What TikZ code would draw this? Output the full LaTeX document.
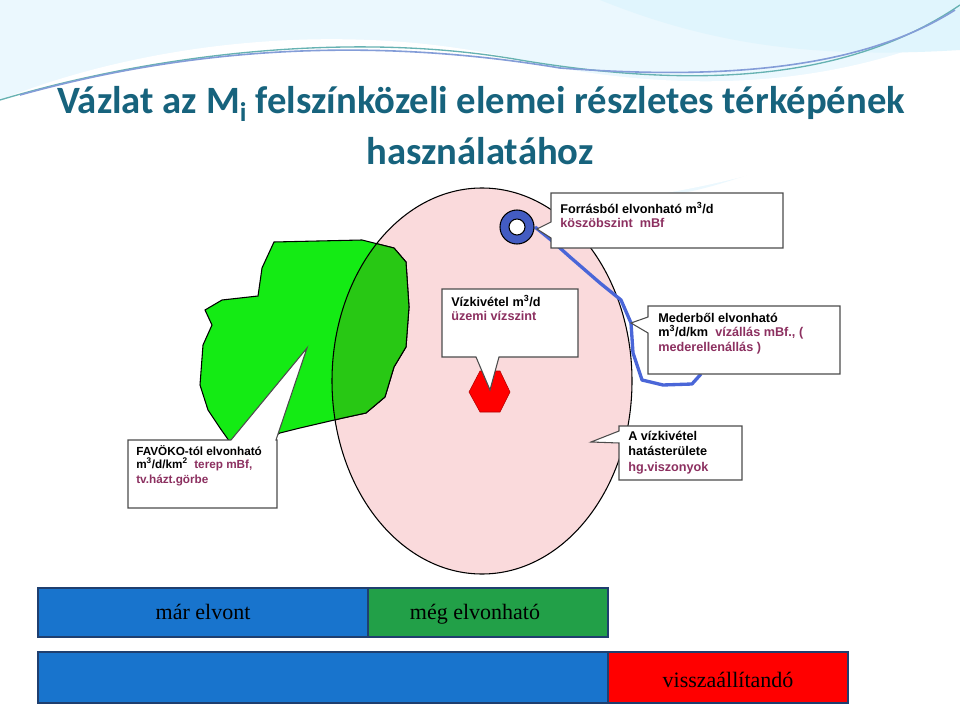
\documentclass[tikz,border=0pt]{standalone}
\usepackage{fontspec}
\setmainfont{Liberation Sans}
\newfontfamily\titlefont{Carlito}
\newfontfamily\serifb{Liberation Serif}
\begin{document}
\begin{tikzpicture}[x=0.75pt,y=-0.75pt,
  callout/.style={draw=black!70,line width=0.8pt,fill=white},
  lbl/.style={font=\fontsize{9.5}{11.5}\selectfont\bfseries,align=left,anchor=north west,inner sep=0pt},
  barbox/.style={draw=barline,line width=1.6pt},
  bartxt/.style={font=\serifb\fontsize{16.5}{18}\selectfont,anchor=base}]
\definecolor{ttl}{RGB}{23,99,125}
\definecolor{pur}{RGB}{140,48,96}
\definecolor{riv}{RGB}{74,102,216}
\definecolor{bblue}{RGB}{24,116,205}
\definecolor{bgreen}{RGB}{34,160,72}
\definecolor{barline}{RGB}{31,63,111}
\definecolor{pinkf}{RGB}{250,218,220}
\definecolor{grn1}{RGB}{20,235,20}
\definecolor{grn2}{RGB}{40,200,20}
\def\greenshape{(274,242) -- (362,240) -- (394,248) -- (406,262) -- (409,307) -- (406,347) -- (394,367) -- (385,397) -- (366,413) -- (343,418) -- (300,428) -- (280,433) -- (255,446) -- (242,455) -- (232,445) -- (220,428) -- (208,410) -- (200,385) -- (203,345) -- (212,325) -- (205,310) -- (222,300) -- (258,296) -- (262,268) -- cycle}
\useasboundingbox (0,0) rectangle (960,720);
\fill[white] (0,0) rectangle (960,720);
% background swirl
\fill[cyan!8] (0,0) -- (960,0) -- (960,20) .. controls (850,150) and (700,230) .. (480,195) .. controls (300,160) and (120,120) .. (0,115) -- cycle;
\fill[white] (0,100) .. controls (150,40) and (350,20) .. (520,60) .. controls (700,100) and (850,80) .. (960,30) -- (960,60) .. controls (850,170) and (700,230) .. (0,230) -- cycle;
\fill[cyan!12] (600,0) .. controls (700,40) and (800,60) .. (960,50) -- (960,0) -- cycle;
\draw[teal!60,line width=1pt] (0,100) .. controls (150,55) and (350,30) .. (520,60) .. controls (700,90) and (850,80) .. (960,5);
\draw[cyan!40!blue!50,line width=1.2pt] (20,95) .. controls (200,45) and (380,38) .. (560,68) .. controls (720,80) and (860,70) .. (955,10);
% title
\node[font=\titlefont\bfseries\fontsize{29}{32}\selectfont,text=ttl,anchor=west,inner sep=0pt] (t1) at (57,104) {Vázlat az M\textsubscript{i} felszínközeli elemei részletes térképének};
\node[font=\titlefont\bfseries\fontsize{29}{32}\selectfont,text=ttl,inner sep=0pt] (t2) at (480,151) {használatához};
% ellipse + green
\fill[pinkf] (482,381) ellipse (150 and 193);
\draw[fill=grn1,line width=0.8pt] \greenshape;
\begin{scope}
\clip (482,381) ellipse (150 and 193);
\fill[grn2] \greenshape;
\draw[line width=0.8pt] \greenshape;
\end{scope}
\draw[line width=0.8pt] (482,381) ellipse (150 and 193);
% river
\draw[riv,line width=2.5pt,line join=round] (535,227) -- (551,240) -- (570,257) -- (600,283) -- (621,300) -- (631,323) -- (633,353) -- (642,380) -- (663,385) -- (692,384) -- (701,374);
% ring
\draw[fill=riv!90!black,line width=0.8pt] (517,227) circle (17);
\draw[fill=white,line width=0.8pt] (517,227) circle (8);
% red hexagon
\draw[fill=red,draw=red!70!black] (480,371) -- (500,371) -- (510,392) -- (500,412) -- (480,412) -- (469,392) -- cycle;
% callouts
\draw[callout] (551,193) -- (783,193) -- (783,248) -- (551,248) -- (551,238) -- (537,229) -- (551,222) -- cycle;
\node[lbl] (f) at (560,202) {Forrásból elvonható m\textsuperscript{3}/d\\[-1pt]\textcolor{pur}{köszöbszint\ \ mBf}};
\draw[callout] (442,289) -- (578,289) -- (578,357) -- (499,357) -- (490,390) -- (476,357) -- (442,357) -- cycle;
\node[lbl] (v) at (451,295) {Vízkivétel m\textsuperscript{3}/d\\[-1pt]\textcolor{pur}{üzemi vízszint}};
\draw[callout] (648,306) -- (840,306) -- (840,374) -- (648,374) -- (648,333) -- (631,323) -- (648,317) -- cycle;
\node[lbl] (m) at (658,313) {Mederből elvonható\\[-1pt]m\textsuperscript{3}/d/km\ \ \textcolor{pur}{vízállás mBf., (}\\\textcolor{pur}{mederellenállás )}};
\draw[callout] (619,426) -- (742,426) -- (742,480) -- (619,480) -- (619,443) -- (591,442) -- (619,431) -- cycle;
\node[lbl] (a) at (628,431) {A vízkivétel\\hatásterülete\\\textcolor{pur}{hg.viszonyok}};
\draw[callout] (128,440) -- (231,440) -- (307,348) -- (276,440) -- (277,440) -- (277,508) -- (128,508) -- cycle;
\node[lbl,font=\fontsize{8.8}{11}\selectfont\bfseries] (fa) at (136,445) {FAVÖKO-tól elvonható\\[-1pt]m\textsuperscript{3}/d/km\textsuperscript{2}\ \ \textcolor{pur}{terep mBf,}\\\textcolor{pur}{tv.házt.görbe}};
% bars
\fill[bblue] (38,588) rectangle (368,637);
\fill[bgreen] (368,588) rectangle (608,637);
\draw[barbox] (38,588) rectangle (608,637);
\draw[barbox] (368,588) -- (368,637);
\node[bartxt] (b1) at (203,619) {már elvont};
\node[bartxt] (b2) at (475,619) {még elvonható};
\fill[bblue] (38,652) rectangle (608,703);
\fill[red] (608,652) rectangle (848,703);
\draw[barbox] (38,652) rectangle (848,703);
\draw[barbox] (608,652) -- (608,703);
\node[bartxt] (b3) at (728,687) {visszaállítandó};
\end{tikzpicture}
\end{document}
